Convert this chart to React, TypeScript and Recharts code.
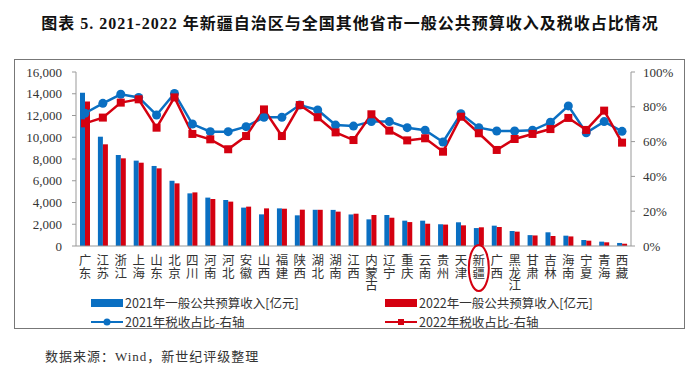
import { ComposedChart, Bar, Line, XAxis, YAxis } from "recharts";

const provinces = [
  "广东", "江苏", "浙江", "上海", "山东", "北京", "四川", "河南", "河北", "安徽",
  "山西", "福建", "陕西", "湖北", "湖南", "江西", "内蒙古", "辽宁", "重庆", "云南",
  "贵州", "天津", "新疆", "广西", "黑龙江", "甘肃", "吉林", "海南", "宁夏", "青海", "西藏",
];

// 一般公共预算收入 (亿元)
const revenue2021 = [
  14100, 10050, 8370, 7850, 7360, 6000, 4840, 4450, 4230, 3530,
  2910, 3460, 2820, 3330, 3320, 2900, 2450, 2850, 2330, 2330,
  2000, 2180, 1650, 1870, 1380, 1000, 1260, 950, 550, 400, 280,
];
const revenue2022 = [
  13280, 9350, 8060, 7660, 7140, 5760, 4930, 4320, 4080, 3620,
  3460, 3430, 3340, 3330, 3160, 2970, 2850, 2600, 2200, 2050,
  1970, 1900, 1720, 1750, 1320, 970, 920, 880, 490, 340, 210,
];

// 税收占比 (%)
const taxShare2021 = [
  76.3, 82, 87.2, 85.4, 75.3, 87.7, 70.1, 65.7, 65.7, 68.6,
  74, 74, 81, 78.2, 69.5, 68.9, 71.5, 71.5, 68, 66.5,
  59.8, 76, 68, 66.1, 66.1, 66.5, 71.1, 80.5, 65.1, 71.5, 65.9,
];
const taxShare2022 = [
  70.5, 73.8, 82.4, 84.3, 68, 85.4, 64.4, 61.3, 55.6, 63.2,
  78.5, 63.2, 81, 74, 65.3, 60.9, 75.7, 66.3, 60.7, 61.9,
  54.2, 74.3, 64.8, 55.2, 61.5, 64.4, 67.2, 73.6, 66.7, 77.8, 59.4,
];

const leftTicks = [0, 2000, 4000, 6000, 8000, 10000, 12000, 14000, 16000];
const rightTicks = [0, 20, 40, 60, 80, 100];

const BLUE = "#0a6fc2";
const RED = "#d40010";
const SERIF = '"Liberation Serif", "Times New Roman", "Noto Sans CJK SC", serif';
const SANS = '"Noto Sans CJK SC", "Noto Sans", sans-serif';

const data = provinces.map((p, i) => ({
  name: p,
  r2021: revenue2021[i],
  r2022: revenue2022[i],
  t2021: taxShare2021[i],
  t2022: taxShare2022[i],
}));

// vertical province names, one text per column
function ProvinceTick(props: any) {
  const { x, y, payload } = props;
  return (
    <g>
      <text
        x={x}
        y={y + 8}
        style={{ writingMode: "vertical-rl" } as any}
        fontSize={12.5}
        fontFamily={SANS}
        fill="#333"
      >
        {payload.value}
      </text>
      {payload.value === "新疆" && (
        <ellipse cx={x} cy={y + 22} rx={10} ry={23} fill="none" stroke={RED} strokeWidth={2} />
      )}
    </g>
  );
}

function SquareDot(props: any) {
  const { cx, cy } = props;
  if (cx == null || cy == null) return <g />;
  return <rect x={cx - 4} y={cy - 4} width={8} height={8} fill={RED} />;
}

function LegendItem({ kind, color, label }: { kind: string; color: string; label: string }) {
  return (
    <div style={{ display: "flex", alignItems: "center", height: 18.5 }}>
      <svg width={34} height={12}>
        {kind === "bar" && <rect x={0} y={2} width={32} height={8} fill={color} />}
        {kind !== "bar" && <line x1={0} y1={6} x2={32} y2={6} stroke={color} strokeWidth={2} />}
        {kind === "circle" && <circle cx={16} cy={6} r={3.5} fill={color} />}
        {kind === "square" && <rect x={13} y={3} width={6} height={6} fill={color} />}
      </svg>
      <span style={{ fontFamily: SANS, fontSize: 12.5, color: "#333", lineHeight: "18.5px" }}>{label}</span>
    </div>
  );
}

export default function App() {
  return (
    <div style={{ position: "absolute", left: 0, top: 0, width: 700, height: 376, background: "#fff" }}>
      <div
        style={{
          position: "absolute",
          left: 0,
          top: 10,
          width: 700,
          textAlign: "center",
          fontFamily: SERIF,
          fontWeight: "bold",
          fontSize: 16,
          letterSpacing: 1,
          color: "#111",
        }}
      >
        图表 5. 2021-2022 年新疆自治区与全国其他省市一般公共预算收入及税收占比情况
      </div>
      <div
        style={{
          position: "absolute",
          left: 14,
          top: 59,
          width: 669,
          height: 268,
          border: "1.5px solid #777",
        }}
      />
      <div style={{ position: "absolute", left: 0, top: 0 }}>
        <ComposedChart
          width={700}
          height={376}
          data={data}
          margin={{ top: 72, right: 19, bottom: 80, left: 26 }}
          barGap={0}
        >
          <XAxis
            dataKey="name"
            interval={0}
            height={50}
            tickSize={0}
            tickMargin={0}
            tickLine={false}
            stroke="#999"
            tick={<ProvinceTick />}
          />
          <YAxis
            yAxisId="left"
            width={50}
            domain={[0, 16000]}
            ticks={leftTicks}
            tickFormatter={(v: number) => v.toLocaleString("en-US")}
            stroke="#999"
            tickSize={4}
            tickMargin={10}
            tick={{ fontSize: 13, fill: "#333", fontFamily: SERIF }}
          />
          <YAxis
            yAxisId="right"
            orientation="right"
            width={50}
            domain={[0, 100]}
            ticks={rightTicks}
            tickFormatter={(v: number) => v + "%"}
            stroke="#999"
            tickSize={4}
            tickMargin={8}
            tick={{ fontSize: 13, fill: "#333", fontFamily: SERIF }}
          />
          <Bar yAxisId="left" dataKey="r2021" fill={BLUE} barSize={5} isAnimationActive={false} />
          <Bar yAxisId="left" dataKey="r2022" fill={RED} barSize={5} isAnimationActive={false} />
          <Line
            yAxisId="right"
            type="linear"
            dataKey="t2021"
            stroke={BLUE}
            strokeWidth={2.5}
            dot={{ r: 4.5, fill: BLUE, stroke: BLUE, strokeWidth: 0 }}
            isAnimationActive={false}
          />
          <Line
            yAxisId="right"
            type="linear"
            dataKey="t2022"
            stroke={RED}
            strokeWidth={2.5}
            dot={(p: any) => <SquareDot key={p.index} {...p} />}
            isAnimationActive={false}
          />
        </ComposedChart>
      </div>
      <div style={{ position: "absolute", left: 91, top: 294 }}>
        <LegendItem kind="bar" color={BLUE} label="2021年一般公共预算收入[亿元]" />
        <LegendItem kind="circle" color={BLUE} label="2021年税收占比-右轴" />
      </div>
      <div style={{ position: "absolute", left: 385, top: 294 }}>
        <LegendItem kind="bar" color={RED} label="2022年一般公共预算收入[亿元]" />
        <LegendItem kind="square" color={RED} label="2022年税收占比-右轴" />
      </div>
      <div
        style={{
          position: "absolute",
          left: 45,
          top: 346,
          fontFamily: SERIF,
          fontSize: 13,
          letterSpacing: 1,
          color: "#333",
        }}
      >
        数据来源：Wind，新世纪评级整理
      </div>
    </div>
  );
}
